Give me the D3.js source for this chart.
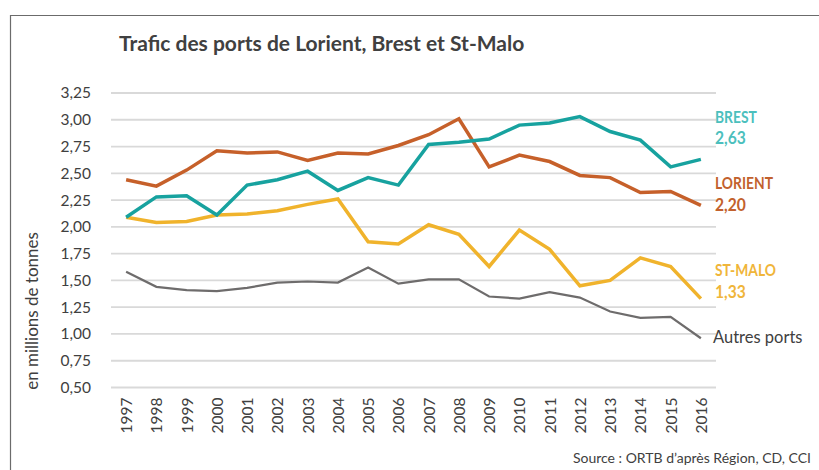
<!DOCTYPE html>
<html>
<head>
<meta charset="utf-8">
<script src="https://cdn.jsdelivr.net/npm/d3@7"></script>
<style>
  body { margin: 0; background: #fff; }
  text { font-family: Lato, "Open Sans", sans-serif; }
</style>
</head>
<body>
<div id="chart"></div>
<script>
const years = [1997, 1998, 1999, 2000, 2001, 2002, 2003, 2004, 2005, 2006, 2007, 2008, 2009, 2010, 2011, 2012, 2013, 2014, 2015, 2016];
const brest   = [2.09, 2.28, 2.29, 2.11, 2.39, 2.44, 2.52, 2.34, 2.46, 2.39, 2.77, 2.79, 2.82, 2.95, 2.97, 3.03, 2.89, 2.81, 2.56, 2.63];
const lorient = [2.44, 2.38, 2.53, 2.71, 2.69, 2.70, 2.62, 2.69, 2.68, 2.76, 2.86, 3.01, 2.56, 2.67, 2.61, 2.48, 2.46, 2.32, 2.33, 2.20];
const stmalo  = [2.09, 2.04, 2.05, 2.11, 2.12, 2.15, 2.21, 2.26, 1.86, 1.84, 2.02, 1.93, 1.63, 1.97, 1.79, 1.45, 1.50, 1.71, 1.63, 1.33];
const autres  = [1.58, 1.44, 1.41, 1.40, 1.43, 1.48, 1.49, 1.48, 1.62, 1.47, 1.51, 1.51, 1.35, 1.33, 1.39, 1.34, 1.21, 1.15, 1.16, 0.96];
const yTicks = [0.5, 0.75, 1, 1.25, 1.5, 1.75, 2, 2.25, 2.5, 2.75, 3, 3.25];

const width = 819;
const height = 470;
const plotLeft = 111, plotRight = 716, plotTop = 93, plotBottom = 387.5;

const svg = d3.select('#chart').append('svg').attr('width', width).attr('height', height);

// frame
svg.append('path').attr('d', `M10.5,${height} V15.5 H${width}`).attr('fill', 'none').attr('stroke', '#6b6b6b').attr('stroke-width', 1.2);

const x = d3.scalePoint().domain(years).range([plotLeft, plotRight]).padding(0.5);
const y = d3.scaleLinear().domain([0.5, 3.25]).range([plotBottom, plotTop]);
const fmt = v => d3.format('.2f')(v).replace('.', ',');

// grid
svg.append('g').selectAll('line').data(yTicks).enter().append('line')
  .attr('x1', plotLeft).attr('x2', plotRight)
  .attr('y1', d => y(d)).attr('y2', d => y(d))
  .attr('stroke', '#d9d9d9').attr('stroke-width', 1.8);

// y axis
const yAxis = svg.append('g').attr('transform', `translate(${plotLeft}, 0)`)
  .call(d3.axisLeft(y).tickValues(yTicks).tickFormat(fmt).tickSize(0).tickPadding(20));
yAxis.select('.domain').remove();
yAxis.selectAll('text').attr('font-size', '15.5px').attr('fill', '#404040').style('font-family', 'Lato, sans-serif');

// x axis
const xAxis = svg.append('g').attr('transform', `translate(0, ${plotBottom})`)
  .call(d3.axisBottom(x).tickSize(0));
xAxis.select('.domain').remove();
xAxis.selectAll('text')
  .attr('transform', 'rotate(-90)')
  .attr('text-anchor', 'end')
  .attr('x', -10).attr('y', 0).attr('dy', '0.35em')
  .attr('font-size', '15.5px').attr('fill', '#404040').style('font-family', 'Lato, sans-serif');

const line = d3.line().x((d, i) => x(years[i])).y(d => y(d));

svg.append('path').datum(autres).attr('d', line).attr('fill', 'none').attr('stroke', '#6e6c6c').attr('stroke-width', 2.2);
svg.append('path').datum(stmalo).attr('d', line).attr('fill', 'none').attr('stroke', '#f0b32c').attr('stroke-width', 3.5);
svg.append('path').datum(lorient).attr('d', line).attr('fill', 'none').attr('stroke', '#c6602a').attr('stroke-width', 3.5);
svg.append('path').datum(brest).attr('d', line).attr('fill', 'none').attr('stroke', '#17a29f').attr('stroke-width', 3.5);

// title
svg.append('text').attr('x', 119).attr('y', 51).text('Trafic des ports de Lorient, Brest et St-Malo')
  .attr('font-size', '21px').attr('font-weight', 'bold').attr('fill', '#404040');

// y label
svg.append('text').attr('transform', 'translate(38, 311) rotate(-90)').attr('text-anchor', 'middle')
  .text('en millions de tonnes').attr('font-size', '17px').attr('fill', '#404040');

// end labels
const endLabels = [
  { name: 'BREST', vals: brest, color: '#4cbfbd', y1: 123, y2: 144 },
  { name: 'LORIENT', vals: lorient, color: '#c2612d', y1: 189, y2: 211 },
  { name: 'ST-MALO', vals: stmalo, color: '#f0b53a', y1: 276, y2: 298 }
];
endLabels.forEach(l => {
  const g = svg.append('g').attr('fill', l.color).attr('font-weight', 'bold');
  g.append('text').attr('transform', `translate(715, ${l.y1}) scale(0.84, 1)`).attr('font-size', '16.5px').text(l.name);
  g.append('text').attr('transform', `translate(715, ${l.y2}) scale(0.92, 1)`).attr('font-size', '17px').text(fmt(l.vals[l.vals.length - 1]));
});
svg.append('text').attr('x', 713).attr('y', 343).text('Autres ports')
  .attr('font-size', '16.5px').attr('fill', '#404040');

// source
svg.append('text').attr('x', 811).attr('y', 463).attr('text-anchor', 'end')
  .text('Source : ORTB d’après Région, CD, CCI').attr('font-size', '14px').attr('fill', '#404040');
</script>
</body>
</html>
